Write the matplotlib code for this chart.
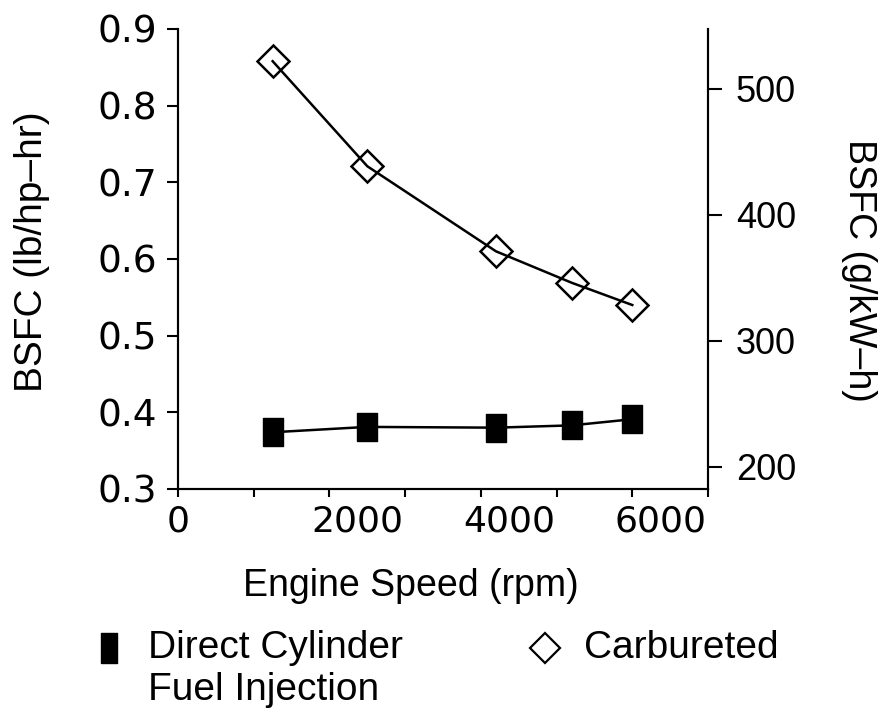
import matplotlib
matplotlib.use('Agg')
import matplotlib.pyplot as plt
from matplotlib.lines import Line2D
from matplotlib.transforms import ScaledTranslation

# engine speed (rpm) and BSFC (lb/hp-hr) for both fuel systems
speed = [1250, 2500, 4200, 5200, 6000]
bsfc_dcfi = [0.374, 0.381, 0.380, 0.383, 0.391]
bsfc_carb = [0.858, 0.721, 0.610, 0.569, 0.540]

LB_HP_HR_TO_G_KWH = 608.3
left_ticks = [0.3, 0.4, 0.5, 0.6, 0.7, 0.8, 0.9]
right_ticks = [200, 300, 400, 500]
x_major = [0, 2000, 4000, 6000]
x_minor = [1000, 3000, 5000, 7000]

plt.rcParams['font.family'] = ['Liberation Sans', 'DejaVu Sans']
plt.rcParams['axes.linewidth'] = 1.5

# upright rectangle used for the filled markers
rect = [(-0.71, -1), (0.71, -1), (0.71, 1), (-0.71, 1), (-0.71, -1)]

fig = plt.figure(figsize=(8.83, 7.09), dpi=100)
ax = fig.add_axes([0.2016, 0.3103, 0.6002, 0.6488])

ax.plot(speed, bsfc_dcfi, color='black', lw=1.8, marker=rect, ms=20,
        mfc='black', mec='black', zorder=3)
ax.plot(speed, bsfc_carb, color='black', lw=1.8, marker='D', ms=16,
        mfc='none', mec='black', mew=1.8, zorder=3)

ax.set_xlim(0, 7000)
ax.set_ylim(0.3, 0.9)
ax.set_xticks(x_major)
ax.set_xticks(x_minor, minor=True)
ax.set_yticks(left_ticks)
ax.set_yticklabels([f'{v:.1f}' for v in left_ticks], family='DejaVu Sans')
ax.tick_params(axis='x', which='both', direction='out', length=6, width=1.5,
               pad=5, labelsize=26)
ax.tick_params(axis='y', direction='out', length=8, width=1.5, pad=7,
               labelsize=27)
for lab in ax.get_xticklabels():
    lab.set_family('DejaVu Sans')

for side in ('top',):
    ax.spines[side].set_visible(False)

ax.set_xlabel('Engine Speed (rpm)', fontsize=27)
ax.xaxis.set_label_coords(0.44, -0.172)
ax.set_ylabel('BSFC (lb/hp\u2013hr)', fontsize=28)
ax.yaxis.label.set(va='center', ha='center')
ax.yaxis.set_label_coords(-0.275, 0.515)

# metric scale on the right
ax2 = ax.twinx()
ax2.set_ylim(0.3 * LB_HP_HR_TO_G_KWH, 0.9 * LB_HP_HR_TO_G_KWH)
ax2.set_yticks(right_ticks)
ax2.tick_params(axis='y', direction='out', length=10, width=1.5, pad=10,
                labelsize=26)
ax2.spines['top'].set_visible(False)
ax2.set_ylabel('BSFC (g/kW\u2013h)', fontsize=27, rotation=270)
ax2.yaxis.label.set(va='center', ha='center')
ax2.yaxis.set_label_coords(1.285, 0.476)

fig.canvas.draw()
# four-digit speed labels sit a little right of their ticks
for lab in ax.get_xticklabels()[1:]:
    lab.set_transform(lab.get_transform() +
                      ScaledTranslation(0.28, 0, fig.dpi_scale_trans))

# legend below the axes
fig.add_artist(Line2D([109 / 883], [1 - 648 / 709], transform=fig.transFigure,
                      marker=[(-0.57, -1), (0.57, -1), (0.57, 1), (-0.57, 1), (-0.57, -1)],
                      ms=21, mfc='black', mec='black', ls='none'))
fig.text(148 / 883, 1 - 648 / 709, 'Direct Cylinder', fontsize=28,
         ha='left', va='center')
fig.text(148 / 883, 1 - 690 / 709, 'Fuel Injection', fontsize=28,
         ha='left', va='center')
fig.add_artist(Line2D([545 / 883], [1 - 648 / 709], transform=fig.transFigure,
                      marker='D', ms=15, mfc='none', mec='black', mew=1.6,
                      ls='none'))
fig.text(584 / 883, 1 - 648 / 709, 'Carbureted', fontsize=28,
         ha='left', va='center')

fig.savefig('out.png', dpi=100)
